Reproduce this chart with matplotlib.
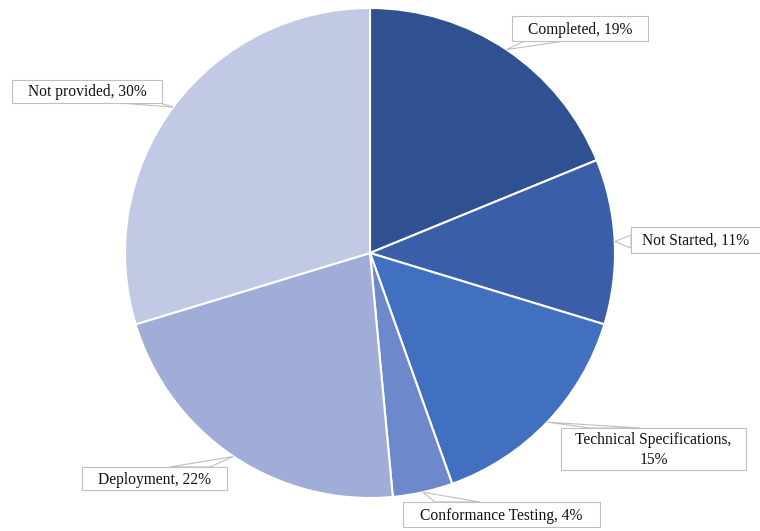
import numpy as np
import matplotlib.pyplot as plt
from matplotlib.patches import Rectangle, Polygon

# Share of items by stage (percent, as labelled)
stages = ["Completed", "Not Started", "Technical Specifications",
          "Conformance Testing", "Deployment", "Not provided"]
shares = [19, 11, 15, 4, 22, 30]
label_text = ["Completed, 19%", "Not Started, 11%",
              "Technical Specifications,\n15%", "Conformance Testing, 4%",
              "Deployment, 22%", "Not provided, 30%"]

colors = ["#2F5191", "#3A5FA8", "#4270C0", "#6E89CB", "#9FADD8", "#C1C9E4"]

# Callout boxes in figure pixels: (left, top, right, bottom)
boxes = [(512, 16, 648, 41), (631, 227, 760, 253), (561, 428, 746, 470),
         (403, 502, 600, 527), (82, 467, 227, 490), (12, 80, 162, 103)]
# Where each callout meets its box: two base points
bases = [((525, 41), (565, 41)), ((631, 235), (631, 248)),
         ((590, 428), (640, 428)), ((435, 502), (480, 502)),
         ((170, 467), (210, 467)), ((120, 103), (160, 103))]

W, H = 760, 531
CX, CY, R = 370, 253, 245

fig = plt.figure(figsize=(W / 100, H / 100), dpi=100)
ax = fig.add_axes([(CX - R) / W, (H - CY - R) / H, 2 * R / W, 2 * R / H])
wedges, _ = ax.pie(shares, colors=colors, startangle=90, counterclock=False,
                   radius=1, wedgeprops=dict(edgecolor="white", linewidth=1.5))
ax.set_xlim(-1, 1)
ax.set_ylim(-1, 1)
ax.axis("off")

ov = fig.add_axes([0, 0, 1, 1], zorder=5)
ov.set_xlim(0, W)
ov.set_ylim(H, 0)
ov.axis("off")

for w, txt, box, base in zip(wedges, label_text, boxes, bases):
    mid = np.deg2rad((w.theta1 + w.theta2) / 2)
    tip = (CX + R * np.cos(mid), CY - R * np.sin(mid))
    ov.add_patch(Polygon([tip, base[0], base[1]], closed=True,
                         facecolor="white", edgecolor="#BFBFBF", lw=0.8))
    l, t, r, b = box
    ov.add_patch(Rectangle((l, t), r - l, b - t, facecolor="white",
                           edgecolor="#BFBFBF", lw=0.8))
    ov.text((l + r) / 2, (t + b) / 2 + 1, txt, ha="center", va="center",
            family="Liberation Serif", fontsize=11.2, color="#111111",
            linespacing=1.3)

fig.savefig("out.png", dpi=100)
